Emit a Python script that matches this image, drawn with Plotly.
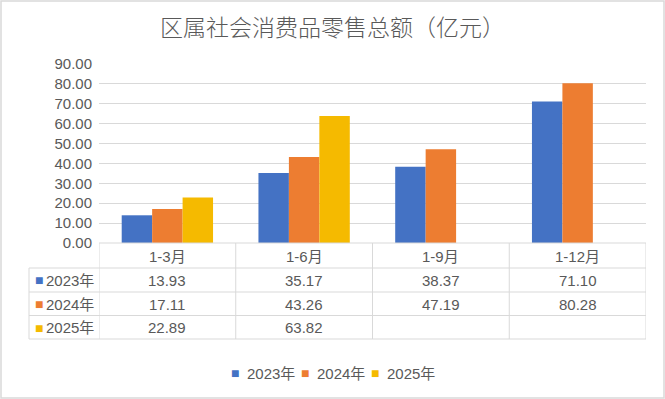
import plotly.graph_objects as go

categories = ["1-3月", "1-6月", "1-9月", "1-12月"]
series_names = ["2023年", "2024年", "2025年"]
values_2023 = [13.93, 35.17, 38.37, 71.10]
values_2024 = [17.11, 43.26, 47.19, 80.28]
values_2025 = [22.89, 63.82, None, None]
colors = ["#4472C4", "#ED7D31", "#F5BA00"]
y_ticks = [0, 10, 20, 30, 40, 50, 60, 70, 80, 90]
title_text = "区属社会消费品零售总额（亿元）"

series_values = [values_2023, values_2024, values_2025]

W, H = 665, 399
ML, MR, MT, MB = 99, 19, 64, 156
PW, PH = W - ML - MR, H - MT - MB
FONT = "Liberation Sans, Noto Sans CJK SC, sans-serif"
TXT = "#595959"
GRID = "#D9D9D9"


def px_y(Y):
    return (H - MB - Y) / PH


def px_x(X):
    return (X - ML) / PW


fig = go.Figure()
for name, vals, col in zip(series_names, series_values, colors):
    fig.add_trace(go.Bar(x=categories, y=vals, name=name, marker_color=col,
                         marker_line_width=0, showlegend=False))

shapes = []
ann = []
row_lines = [268, 292, 315.5, 339]
for Y in row_lines:
    shapes.append(dict(type="line", xref="paper", yref="paper", x0=px_x(29), x1=1,
                       y0=px_y(Y), y1=px_y(Y), line=dict(color=GRID, width=1)))
shapes.append(dict(type="line", xref="paper", yref="paper", x0=0, x1=1,
                   y0=0, y1=0, line=dict(color=GRID, width=1)))
for i in range(len(categories) + 1):
    shapes.append(dict(type="line", xref="x", yref="paper", x0=i - 0.5, x1=i - 0.5,
                       y0=0, y1=px_y(339), line=dict(color=GRID, width=1)))
shapes.append(dict(type="line", xref="paper", yref="paper", x0=px_x(29), x1=px_x(29),
                   y0=px_y(268), y1=px_y(339), line=dict(color=GRID, width=1)))
shapes.append(dict(type="rect", xref="paper", yref="paper", x0=px_x(1), x1=px_x(664),
                   y0=px_y(398), y1=px_y(1), line=dict(color=GRID, width=1.5)))

for c in categories:
    ann.append(dict(x=c, xref="x", y=px_y(256), yref="paper", text=c, showarrow=False,
                    font=dict(family=FONT, size=15, color=TXT), yanchor="middle"))

row_centers = [280, 304, 327.5]
for name, vals, col, Yc in zip(series_names, series_values, colors, row_centers):
    ann.append(dict(x=px_x(38.5), xref="paper", y=px_y(Yc), yref="paper", text="■",
                    showarrow=False, font=dict(family=FONT, size=14, color=col),
                    yanchor="middle", xanchor="center"))
    ann.append(dict(x=px_x(44), xref="paper", y=px_y(Yc), yref="paper", text=name,
                    showarrow=False, font=dict(family=FONT, size=15, color=TXT),
                    yanchor="middle", xanchor="left"))
    for c, v in zip(categories, vals):
        if v is None:
            continue
        ann.append(dict(x=c, xref="x", y=px_y(Yc), yref="paper", text=f"{v:.2f}",
                        showarrow=False, font=dict(family=FONT, size=15, color=TXT),
                        yanchor="middle"))

leg_sq = [234.5, 304.5, 374.5]
for name, col, sx in zip(series_names, colors, leg_sq):
    ann.append(dict(x=px_x(sx), xref="paper", y=px_y(373), yref="paper", text="■",
                    showarrow=False, font=dict(family=FONT, size=14, color=col),
                    yanchor="middle", xanchor="center"))
    ann.append(dict(x=px_x(sx + 10), xref="paper", y=px_y(373), yref="paper", text=name,
                    showarrow=False, font=dict(family=FONT, size=15, color=TXT),
                    yanchor="middle", xanchor="left"))

fig.update_layout(
    width=W, height=H,
    margin=dict(l=ML, r=MR, t=MT, b=MB, pad=0),
    paper_bgcolor="white", plot_bgcolor="white",
    barmode="group", bargap=0.332, bargroupgap=0,
    title=dict(text=title_text, x=0.5, xref="container", xanchor="center",
               y=1 - 28 / H, yref="container", yanchor="middle",
               font=dict(family="Noto Sans CJK SC, sans-serif", size=23, color=TXT,
                         weight=300)),
    shapes=shapes, annotations=ann,
    xaxis=dict(showticklabels=False, showgrid=False, showline=False, zeroline=False,
               ticks="", range=[-0.5, 3.5]),
    yaxis=dict(range=[0, 90], tickvals=y_ticks, tickformat=".2f",
               showgrid=True, gridcolor=GRID, gridwidth=1, zeroline=False,
               showline=False, ticks="", ticklabelstandoff=6,
               tickfont=dict(family=FONT, size=15, color=TXT)),
)

fig.write_html("out.html", config={"displayModeBar": False},
               post_script="document.body.style.margin='0';")
